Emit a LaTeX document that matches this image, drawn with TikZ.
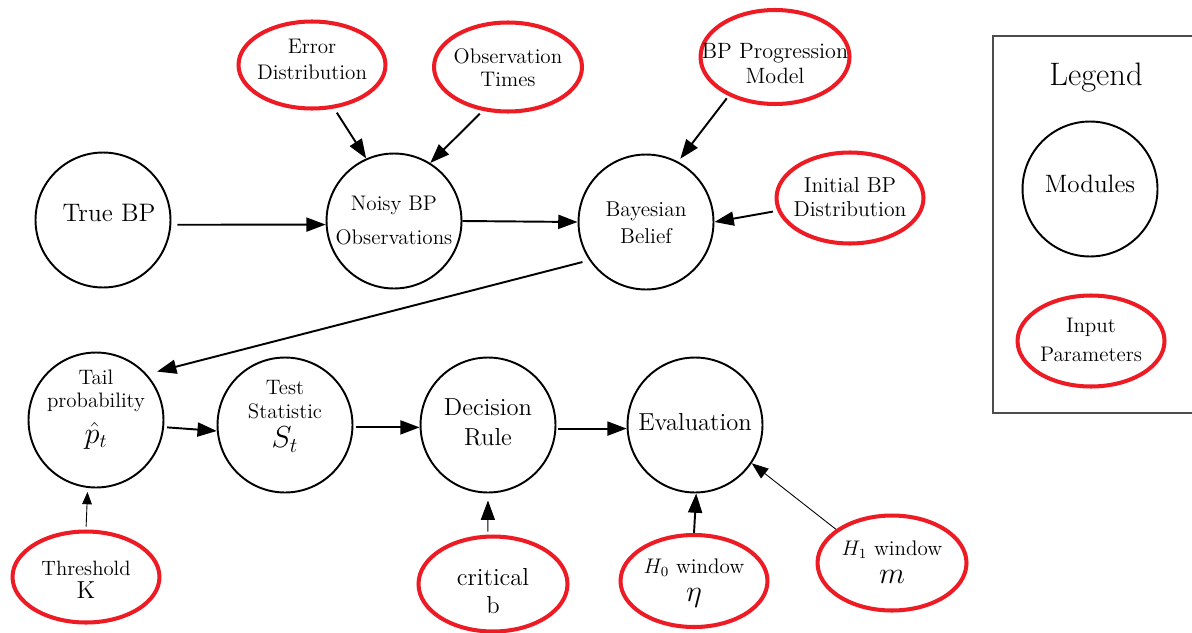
\documentclass[tikz,border=0pt]{standalone}
\usetikzlibrary{shapes.geometric,arrows.meta}
\definecolor{pred}{RGB}{237,28,36}
\newcommand{\ctext}[2][-2pt]{\smash{\raisebox{#1}{\makebox[0pt]{\begin{tabular}{@{}c@{}}#2\end{tabular}}}}}
\tikzset{
  mod/.style={circle, draw=black, line width=1.1pt, minimum size=2.7cm, inner sep=0pt},
  par/.style={ellipse, draw=pred, line width=2.3pt, minimum width=2.94cm, minimum height=1.8cm, inner sep=0pt},
  thk/.style={line width=1.1pt, -{Triangle[length=11pt,width=8pt]}},
  thn/.style={line width=0.5pt, -{Triangle[length=7pt,width=5.5pt]}},
  thnbig/.style={line width=0.5pt, -{Triangle[length=11pt,width=8pt]}},
  thnmid/.style={line width=0.5pt, -{Triangle[length=9.5pt,width=7pt]}},
}
\begin{document}
\begin{tikzpicture}[x=0.02cm,y=-0.02cm]
\clip (0,0) rectangle (1192,632);
% modules
\node[mod, font=\fontsize{14.4}{16}\selectfont] (true) at (103,220) {\ctext[-1.5pt]{\hspace*{6.8pt}True BP}};
\node[mod, font=\fontsize{12}{19.3}\selectfont] (noisy) at (394,221) {\ctext[-2.6pt]{Noisy BP\\Observations}};
\node[mod, font=\fontsize{12.2}{15.3}\selectfont] (bayes) at (646,222) {\ctext[-4.6pt]{Bayesian\\Belief}};
\node[mod, font=\fontsize{11.9}{13}\selectfont] (tail) at (96,420) {\ctext[3pt]{Tail\\probability\\[4.5pt]{\fontsize{16}{16}\selectfont$\hat{p}_t$}}};
\node[mod, font=\fontsize{11.9}{13.6}\selectfont] (test) at (285,425) {\ctext[2pt]{Test\\Statistic\\[1pt]{\fontsize{16.5}{16}\selectfont$S_t$}}};
\node[mod, font=\fontsize{14}{17.6}\selectfont] (dec) at (488,425) {\ctext[-3.2pt]{Decision\\Rule}};
\node[mod, font=\fontsize{14}{17}\selectfont] (eval) at (695,425) {\ctext[-3.2pt]{Evaluation}};
% parameters
\node[par, minimum height=1.74cm, font=\fontsize{12}{15.3}\selectfont] (err) at (312,65) {\ctext[-0.8pt]{Error\\Distribution}};
\node[par, minimum width=2.96cm, minimum height=1.78cm, font=\fontsize{12}{13}\selectfont] (obs) at (508,67) {\ctext[-4.8pt]{Observation\\Times}};
\node[par, minimum width=2.98cm, minimum height=1.88cm, font=\fontsize{12.6}{14.7}\selectfont] (prog) at (775,57) {\ctext[-8pt]{BP Progression\\Model}};
\node[par, minimum height=1.82cm, font=\fontsize{12.3}{13.6}\selectfont] (init) at (850,198) {\ctext[-4.2pt]{Initial BP\\Distribution}};
\node[par, minimum height=1.82cm, font=\fontsize{11.8}{12}\selectfont] (thresh) at (86,577) {\ctext[-6.4pt]{Threshold\\{\fontsize{14}{14}\selectfont K}}};
\node[par, minimum width=2.98cm, minimum height=1.9cm, font=\fontsize{14}{14.2}\selectfont] (crit) at (493,584) {\ctext[-9.5pt]{critical\\[1.5pt]b}};
\node[par, minimum height=1.84cm, font=\fontsize{12}{14}\selectfont] (h0) at (694,581) {\ctext[-4pt]{$H_0$ window\\[2pt]{\fontsize{16}{16}\selectfont$\eta$}}};
\node[par, minimum width=2.98cm, minimum height=1.9cm, font=\fontsize{12}{14}\selectfont] (h1) at (892,563) {\ctext[-4pt]{$H_1$ window\\[2pt]{\fontsize{16}{16}\selectfont$m$}}};
% legend
\draw[line width=0.6pt, black!70] (993,36) rectangle (1210,413);
\node[font=\fontsize{18.5}{18.5}\selectfont] (legtitle) at (1096,78) {Legend};
\node[mod, font=\fontsize{14.3}{16}\selectfont] (legmod) at (1090,189) {\ctext[-2.5pt]{Modules}};
\node[par, minimum height=1.82cm, font=\fontsize{12}{17}\selectfont] (legpar) at (1091,341) {\ctext[-3pt]{Input\\Parameters}};
% connectors
\draw[thk, shorten <=3.4pt] (true.-4) -- (noisy.183);
\draw[thk] (noisy.east) -- (bayes.west);
\draw[thk, shorten <=2.8pt] (err.-63) -- (noisy.114);
\draw[thk, shorten <=2.3pt] (obs.240) -- (noisy.58);
\draw[thk, shorten <=1.7pt, shorten >=2pt] (prog.220) -- (bayes.62);
\draw[thk, shorten <=2.5pt] (init.190) -- (bayes.east);
\draw[thk, shorten <=4pt, shorten >=6pt] (bayes.214) -- (tail.42);
\draw[thk, shorten <=1.7pt] (tail.-6) -- (test.185);
\draw[thk, shorten <=1.2pt] (test.-2) -- (dec.182);
\draw[thk, shorten <=1.2pt] (dec.-3) -- (eval.183);
\draw[thn, shorten <=1.7pt, shorten >=2.3pt] (thresh.north) -- (tail.-97);
\draw[thnbig, shorten <=1.7pt, shorten >=4pt] (crit.96) -- (dec.-90);
\draw[thk] (h0.north) -- (eval.-89);
\draw[thnmid] (h1.149) -- (eval.-34);
\end{tikzpicture}
\end{document}
